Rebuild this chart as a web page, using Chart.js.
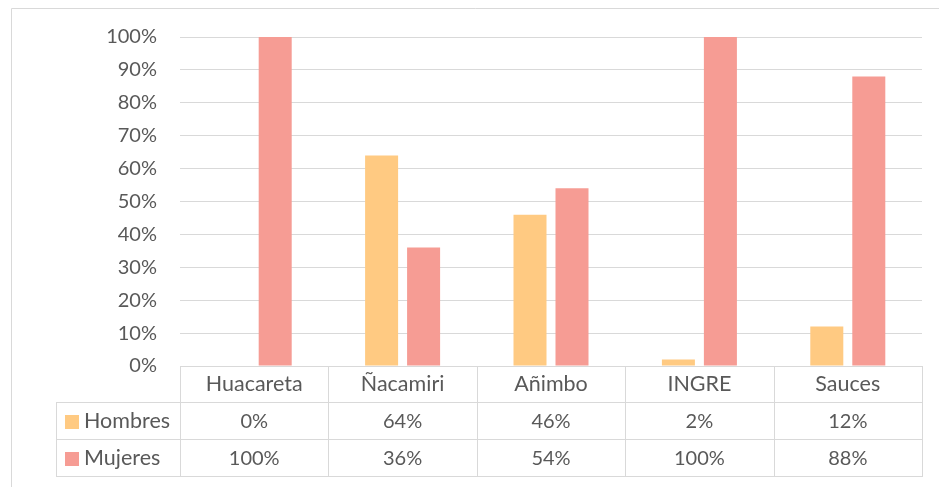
<!DOCTYPE html>
<html>
<head>
<meta charset="utf-8">
<script src="https://cdn.jsdelivr.net/npm/chart.js@4"></script>
<style>
  html, body { margin: 0; padding: 0; background: #fff; }
  #chart { display: block; }
</style>
</head>
<body>
<canvas id="chart" width="939" height="487"></canvas>
<script>
// data
const categories = ["Huacareta", "Ñacamiri", "Añimbo", "INGRE", "Sauces"];
const seriesNames = ["Hombres", "Mujeres"];
const hombres = [0, 64, 46, 2, 12];
const mujeres = [100, 36, 54, 100, 88];

const colors = ["#FFCA82", "#F69C94"];
const lineColor = "#d9d9d9";
const textColor = "#595959";
const fontFamily = "Lato, 'Liberation Sans', sans-serif";
const fontSize = 20;
const nameSize = 21.5;

// draws the data table under the plot + the outer frame
const tablePlugin = {
    id: "dataTable",
    afterDraw(chart) {
        const ctx = chart.ctx;
        const x = chart.scales.x;
        const area = chart.chartArea;
        const n = categories.length;
        const colW = (x.right - x.left) / n;
        const rowH = 37;
        const top = area.bottom;
        const legendLeft = 56;
        const bottom = top + rowH * 3;

        ctx.save();
        ctx.strokeStyle = lineColor;
        ctx.lineWidth = 1;

        // outer frame
        ctx.beginPath();
        ctx.moveTo(11.5, chart.height);
        ctx.lineTo(11.5, 8.5);
        ctx.lineTo(chart.width, 8.5);
        ctx.stroke();

        // horizontal table lines
        ctx.beginPath();
        for (let r = 1; r <= 3; r++) {
            const y = Math.round(top + rowH * r) - 0.5;
            ctx.moveTo(legendLeft, y);
            ctx.lineTo(x.right, y);
        }
        // vertical lines
        for (let i = 0; i <= n; i++) {
            const xx = Math.round(x.left + colW * i) + 0.5;
            ctx.moveTo(xx, top);
            ctx.lineTo(xx, bottom);
        }
        ctx.moveTo(legendLeft + 0.5, top + rowH);
        ctx.lineTo(legendLeft + 0.5, bottom);
        ctx.stroke();

        // text
        ctx.fillStyle = textColor;
        ctx.textBaseline = "middle";
        ctx.textAlign = "center";
        ctx.font = nameSize + "px " + fontFamily;
        categories.forEach((c, i) => {
            ctx.fillText(c, x.getPixelForValue(i), top + rowH * 0.5);
        });
        const rows = [hombres, mujeres];
        rows.forEach((vals, r) => {
            const cy = top + rowH * (r + 1.5);
            ctx.textAlign = "center";
            ctx.font = fontSize + "px " + fontFamily;
            vals.forEach((v, i) => {
                ctx.fillText(v + "%", x.getPixelForValue(i), cy);
            });
            // legend key
            ctx.fillStyle = colors[r];
            ctx.fillRect(65, Math.round(cy - 7), 14, 14);
            ctx.fillStyle = textColor;
            ctx.textAlign = "left";
            ctx.font = nameSize + "px " + fontFamily;
            ctx.fillText(seriesNames[r], 84, cy);
        });
        ctx.restore();
    }
};

new Chart(document.getElementById("chart"), {
    type: "bar",
    data: {
        labels: categories,
        datasets: [
            { label: seriesNames[0], data: hombres, backgroundColor: colors[0] },
            { label: seriesNames[1], data: mujeres, backgroundColor: colors[1] }
        ]
    },
    options: {
        responsive: false,
        animation: false,
        devicePixelRatio: 1,
        datasets: {
            bar: { categoryPercentage: 0.566, barPercentage: 0.786 }
        },
        layout: { padding: { left: 0, top: 37, right: 17, bottom: 121 } },
        scales: {
            x: {
                display: false
            },
            y: {
                min: 0,
                max: 100,
                afterFit(scale) { scale.width = 180; },
                ticks: {
                    stepSize: 10,
                    padding: 23,
                    color: textColor,
                    font: { family: fontFamily, size: fontSize },
                    callback: v => v + "%"
                },
                grid: { color: lineColor, drawTicks: false },
                border: { display: false }
            }
        },
        plugins: {
            legend: { display: false },
            tooltip: { enabled: false }
        }
    },
    plugins: [tablePlugin]
});
</script>
</body>
</html>
